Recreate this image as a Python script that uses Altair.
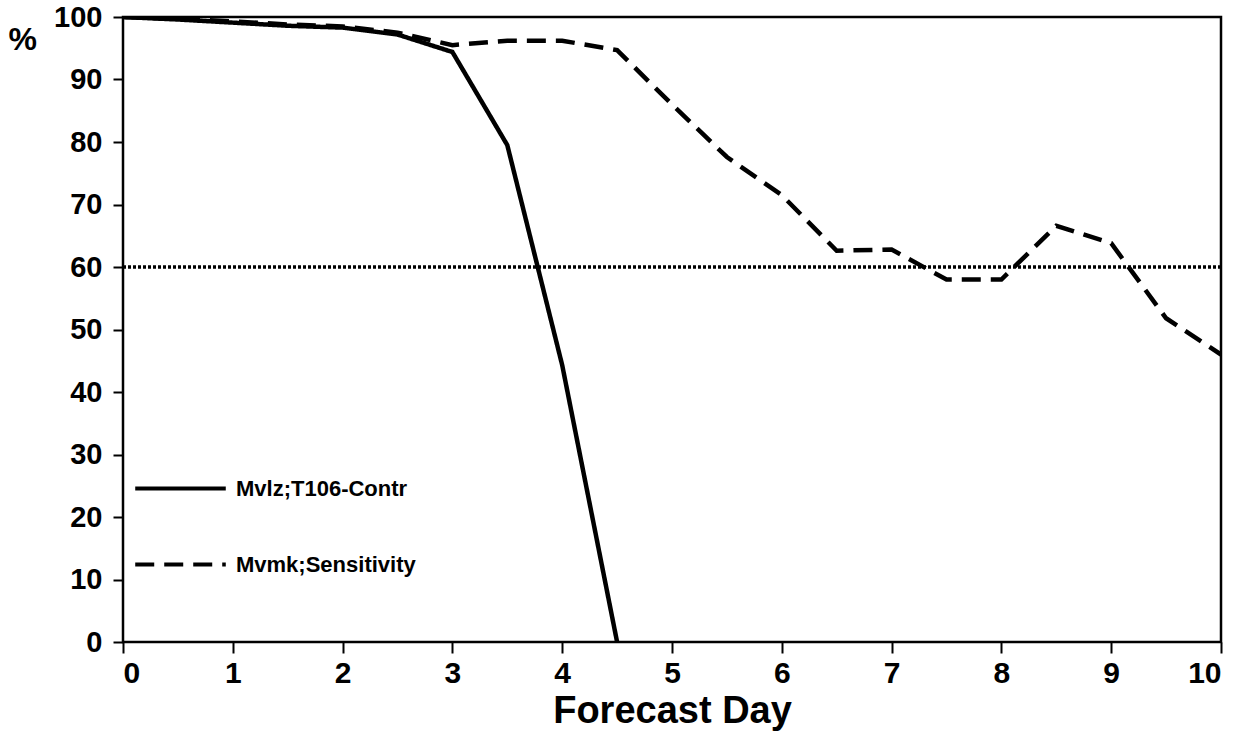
import altair as alt
import pandas as pd

days = [0, 0.5, 1, 1.5, 2, 2.5, 3, 3.5, 4, 4.5, 5, 5.5, 6, 6.5, 7, 7.5, 8, 8.5, 9, 9.5, 10]
control = [100, 99.6, 99.1, 98.6, 98.3, 97.2, 94.4, 79.5, 44.3, 0]
sensitivity = [100, 99.7, 99.3, 98.8, 98.5, 97.5, 95.5, 96.2, 96.2, 94.7, 86.0, 77.6, 71.5, 62.6, 62.8, 58.0, 58.0, 66.6, 63.8, 51.8, 46.0]
series_names = ["Mvlz;T106-Contr", "Mvmk;Sensitivity"]
threshold = [60]

rows = []
for d, v in zip(days, control):
    rows.append({"day": d, "pct": v, "series": series_names[0]})
for d, v in zip(days, sensitivity):
    rows.append({"day": d, "pct": v, "series": series_names[1]})
df = pd.DataFrame(rows)

FONT = "Liberation Sans"

x = alt.X("day:Q", scale=alt.Scale(domain=[0, 10], nice=False),
          axis=alt.Axis(values=list(range(11)), title="Forecast Day", format="d",
                        grid=False, domain=False, tickSize=11, tickWidth=2, tickColor="black",
                        labelFont=FONT, labelFontSize=30, labelFontWeight="bold", labelColor="black",
                        labelPadding=5, titleFont=FONT, titleFontSize=38, titleFontWeight="bold",
                        titleColor="black", titlePadding=4))
y = alt.Y("pct:Q", scale=alt.Scale(domain=[0, 100], nice=False),
          axis=alt.Axis(values=list(range(0, 101, 10)), title="%", grid=False, domain=False,
                        tickSize=10, tickWidth=2, tickColor="black",
                        labelFont=FONT, labelFontSize=29, labelFontWeight="bold", labelColor="black",
                        labelPadding=11, titleFont=FONT, titleFontSize=32, titleFontWeight="bold",
                        titleColor="black", titleAngle=0, titleAlign="left", titleBaseline="middle",
                        titleX=-115, titleY=22))

lines = alt.Chart(df).mark_line(strokeWidth=4.5, color="black", clip=True).encode(
    x=x, y=y,
    strokeDash=alt.StrokeDash("series:N",
        scale=alt.Scale(domain=series_names, range=[[1, 0], [19, 10]]),
        legend=alt.Legend(title=None, orient="none", legendX=10, legendY=424,
                          symbolType="stroke", symbolSize=8200, symbolStrokeWidth=4,
                          symbolStrokeColor="black", labelFont=FONT, labelFontSize=22,
                          labelFontWeight="bold", labelColor="black", rowPadding=17,
                          labelOffset=8, labelLimit=500)),
    detail="series:N",
)

thr = alt.Chart(pd.DataFrame({"pct": threshold})).mark_rule(
    strokeWidth=3.5, strokeDash=[3, 2], color="black").encode(y=alt.Y("pct:Q"))

chart = alt.layer(thr, lines).properties(
    width=1098, height=625,
    autosize=alt.AutoSizeParams(type="none"),
    padding={"left": 123, "top": 17, "right": 32, "bottom": 98},
    background="white",
).configure_view(stroke="black", strokeWidth=2.5)

chart.save("out.html", embed_options={"renderer": "svg", "actions": False})
